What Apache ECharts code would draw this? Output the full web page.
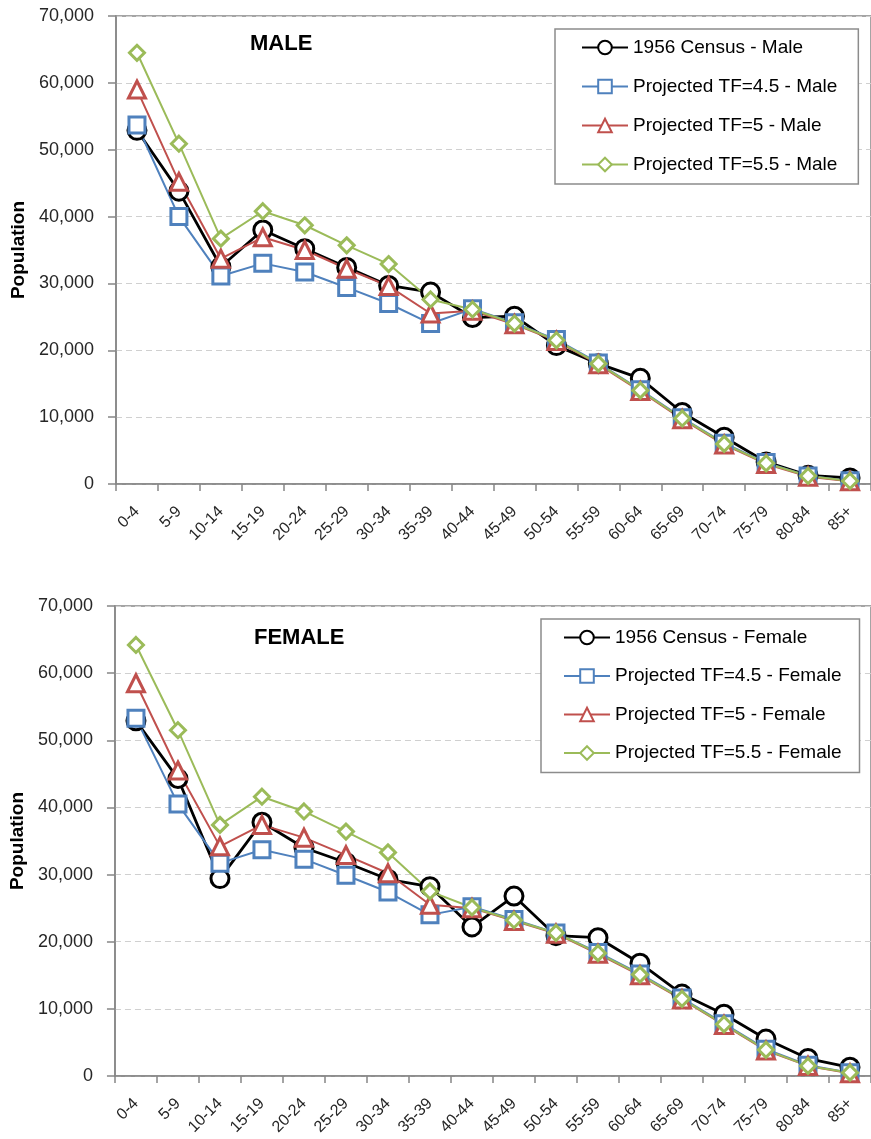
<!DOCTYPE html>
<html>
<head>
<meta charset="utf-8">
<title>Population by age group</title>
<script src="https://cdn.jsdelivr.net/npm/echarts@6/dist/echarts.min.js"></script>
<style>
  html, body { margin: 0; padding: 0; background: #fff; }
  #chart { width: 871px; height: 1139px; }
</style>
</head>
<body>
<div id="chart"></div>
<script>
var ageGroups = ['0-4', '5-9', '10-14', '15-19', '20-24', '25-29', '30-34', '35-39', '40-44',
  '45-49', '50-54', '55-59', '60-64', '65-69', '70-74', '75-79', '80-84', '85+'];

var maleNames = ['1956 Census - Male', 'Projected TF=4.5 - Male', 'Projected TF=5 - Male', 'Projected TF=5.5 - Male'];
var femaleNames = ['1956 Census - Female', 'Projected TF=4.5 - Female', 'Projected TF=5 - Female', 'Projected TF=5.5 - Female'];

var maleCensus = [52900, 43800, 32500, 38000, 35200, 32400, 29700, 28700, 24900, 25100, 20700, 18000, 15800, 10700, 7000, 3300, 1300, 900];
var maleTF45 = [53700, 40000, 31100, 33000, 31700, 29400, 27000, 24000, 26200, 24100, 21600, 18100, 14100, 9900, 6100, 3200, 1200, 500];
var maleTF5 = [59000, 45200, 33700, 36900, 35000, 32200, 29600, 25500, 25900, 23900, 21400, 17900, 13900, 9700, 5900, 3000, 1100, 400];
var maleTF55 = [64500, 50900, 36700, 40800, 38700, 35700, 32900, 27600, 26100, 24000, 21500, 18000, 14000, 9800, 6000, 3100, 1200, 450];

var femaleCensus = [52900, 44300, 29400, 37800, 34000, 31800, 29300, 28200, 22200, 26800, 20900, 20600, 16800, 12200, 9200, 5500, 2600, 1300];
var femaleTF45 = [53300, 40500, 31700, 33700, 32300, 29900, 27400, 24000, 25200, 23300, 21300, 18400, 15200, 11600, 7800, 4000, 1600, 500];
var femaleTF5 = [58500, 45500, 34200, 37400, 35500, 32900, 30200, 25500, 25000, 23100, 21200, 18200, 15000, 11400, 7600, 3800, 1500, 400];
var femaleTF55 = [64200, 51500, 37400, 41600, 39400, 36400, 33300, 27500, 25100, 23200, 21300, 18300, 15100, 11500, 7700, 3900, 1500, 500];

var font = "'Liberation Sans', Arial, sans-serif";

var colors = ['#000000', '#4f81bd', '#c0504d', '#9bbb59'];
var symbols = ['circle', 'rect', 'triangle', 'diamond'];
var sizes = [18, 16, 17, 15];

function thousands(v) {
    return String(v).replace(/\B(?=(\d{3})+(?!\d))/g, ',');
}

function makeSeries(names, lists, idx) {
    return names.map(function (name, i) {
        return {
            name: name,
            type: 'line',
            xAxisIndex: idx,
            yAxisIndex: idx,
            data: lists[i],
            symbol: symbols[i],
            symbolSize: sizes[i],
            showAllSymbol: true,
            lineStyle: { color: colors[i], width: i === 0 ? 2.8 : 2 },
            itemStyle: { color: '#fff', borderColor: colors[i], borderWidth: 3 },
            emphasis: { disabled: true },
            animation: false
        };
    });
}

function makeX(idx) {
    return {
        type: 'category',
        gridIndex: idx,
        data: ageGroups,
        boundaryGap: true,
        axisLine: { lineStyle: { color: '#868686', width: 1.5 } },
        axisTick: { show: true, length: 7, lineStyle: { color: '#868686', width: 1.5 } },
        axisLabel: { rotate: 45, interval: 0, margin: 25, fontFamily: font, fontSize: 16, color: '#262626' }
    };
}

function makeY(idx, gap) {
    return {
        type: 'value',
        gridIndex: idx,
        min: 0,
        max: 70000,
        interval: 10000,
        name: 'Population',
        nameLocation: 'middle',
        nameGap: gap,
        nameTextStyle: { fontFamily: font, fontWeight: 'bold', fontSize: 19, color: '#000' },
        axisLine: { show: true, lineStyle: { color: '#868686', width: 1.5 } },
        axisTick: { show: true, length: 8, lineStyle: { color: '#868686', width: 1.5 } },
        axisLabel: { margin: 22, fontFamily: font, fontSize: 18, color: '#262626', formatter: thousands },
        splitLine: { show: true, lineStyle: { color: '#d0d0d0', type: [6, 4], width: 1 } }
    };
}

function makeLegend(names, left, top, pad, gap) {
    return {
        data: names,
        orient: 'vertical',
        left: left,
        top: top,
        padding: pad,
        itemGap: gap,
        itemWidth: 46,
        itemHeight: 17,
        borderColor: '#8c8c8c',
        borderWidth: 1.5,
        backgroundColor: '#fff',
        selectedMode: false,
        textStyle: { fontFamily: font, fontSize: 19, color: '#000' }
    };
}

var chart = echarts.init(document.getElementById('chart'), null, { renderer: 'canvas' });

var option = {
    backgroundColor: '#fff',
    animation: false,
    title: [
        { text: 'MALE', left: 245, top: 28, textStyle: { fontFamily: font, fontWeight: 'bold', fontSize: 22, color: '#000' } },
        { text: 'FEMALE', left: 249, top: 622, textStyle: { fontFamily: font, fontWeight: 'bold', fontSize: 22, color: '#000' } }
    ],
    legend: [
        makeLegend(maleNames, 555, 29, [9, 21, 10, 26], 20),
        makeLegend(femaleNames, 541, 619, [9, 18, 10, 22], 19.5)
    ],
    grid: [
        { left: 116, top: 16, width: 760, height: 468, show: true, borderColor: '#868686', borderWidth: 1.5 },
        { left: 114, top: 606, width: 762, height: 470, show: true, borderColor: '#868686', borderWidth: 1.5 }
    ],
    xAxis: [makeX(0), makeX(1)],
    yAxis: [makeY(0, 85), makeY(1, 83)],
    series: makeSeries(maleNames, [maleCensus, maleTF45, maleTF5, maleTF55], 0)
        .concat(makeSeries(femaleNames, [femaleCensus, femaleTF45, femaleTF5, femaleTF55], 1))
};

chart.setOption(option);

window.addEventListener('resize', function () {
    chart.resize();
});
</script>
</body>
</html>
